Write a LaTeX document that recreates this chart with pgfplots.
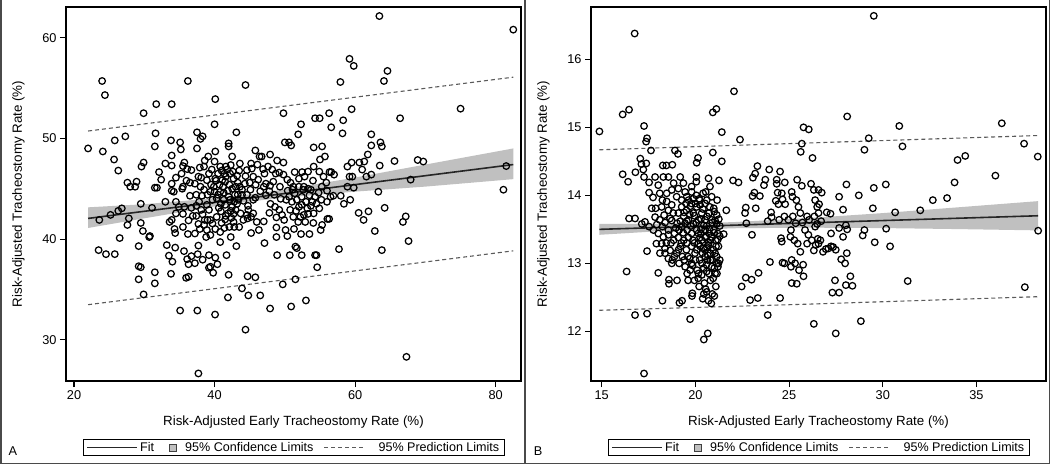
\documentclass[border=0pt]{standalone}
\usepackage{fontspec}
\setmainfont{Liberation Sans}
\usepackage{pgfplots}
\pgfplotsset{compat=1.18}
\definecolor{bandgray}{HTML}{C0C0C0}
\definecolor{fitgray}{HTML}{262626}
\definecolor{predgray}{HTML}{5A5A5A}
\definecolor{framegray}{HTML}{4A4A4A}
\newcommand{\lblfont}{\fontsize{13.4}{15}\selectfont}
\newcommand{\tckfont}{\fontsize{12.8}{14}\selectfont}
\pgfplotsset{
 sasstyle/.style={
  scale only axis, width=455bp, height=374bp,
  axis line style={black, line width=1.1bp},
  tick align=outside, tick pos=left,
  major tick length=6bp,
  every tick/.style={black, line width=1.1bp},
  tick label style={font=\tckfont},
  /pgf/number format/assume math mode=true,
  xticklabel={\tckfont\pgfmathprintnumber{\tick}},
  yticklabel={\tckfont\pgfmathprintnumber{\tick}},
  every axis x label/.style={at={(axis description cs:0.5,-0.1096)},anchor=center},
  every axis y label/.style={at={(axis description cs:-0.1048,0.5)},rotate=90,anchor=center},
  xlabel={\lblfont Risk-Adjusted Early Tracheostomy Rate (\%)},
  ylabel={\lblfont Risk-Adjusted Tracheostomy Rate (\%)},
  legend columns=3,
  legend style={at={(axis description cs:0.501,-0.178)}, anchor=center, draw=black, line width=1.1bp,
    font=\fontsize{12.6}{14}\selectfont, inner xsep=3bp, inner ysep=1bp,
    /tikz/every even column/.append style={column sep=8bp}},
  legend cell align=left,
 },
 pts/.style={only marks, mark=o, mark size=3.3bp, black, mark options={line width=1.25bp}, forget plot},
}
\newcommand{\saslegend}{%
  \addlegendimage{legend image code/.code={\draw[fitgray, line width=1.5bp] (0bp,0bp) -- (50bp,0bp);}}
  \addlegendentry{Fit}
  \addlegendimage{legend image code/.code={\path (-5bp,0bp) (13bp,0bp); \draw[draw=black!75, fill=bandgray, line width=0.8bp] (0bp,-3.5bp) rectangle (7bp,3.5bp);}}
  \addlegendentry{95\% Confidence Limits}
  \addlegendimage{legend image code/.code={\draw[predgray, line width=1bp, dash pattern=on 4bp off 3bp] (0bp,0bp) -- (41bp,0bp); \path (52bp,0bp);}}
  \addlegendentry{95\% Prediction Limits}
}
\pgfplotstableread{
x y
63.45 62.15
82.5 60.8
24.0 55.7
24.4 54.3
36.2 55.7
44.4 55.3
40.1 53.9
31.7 53.4
33.9 53.4
29.9 52.5
59.2 57.9
59.8 57.2
64.6 56.7
64.1 55.7
57.9 55.6
75.0 52.95
66.4 52.0
49.8 52.5
59.5 52.9
56.3 52.5
58.3 51.8
54.3 52.0
54.95 52.0
56.6 51.1
52.3 51.4
51.9 50.4
58.2 50.5
62.3 50.4
22.0 49.0
24.1 48.7
25.8 49.8
27.3 50.2
25.7 47.9
26.3 46.8
31.6 50.5
31.5 49.2
33.8 49.8
35.1 49.6
35.2 48.9
33.9 48.3
40.0 51.4
37.5 50.6
38.0 49.95
38.3 50.2
43.1 50.6
42.0 49.5
42.0 49.2
40.1 48.7
39.1 48.2
42.5 48.2
37.5 49.0
45.8 48.8
46.7 48.2
47.9 48.4
48.9 47.8
49.8 47.6
50.0 49.6
50.6 49.6
50.9 49.3
54.1 49.1
55.3 49.2
55.7 48.2
55.0 47.9
62.3 49.3
63.6 49.6
63.8 49.2
61.8 48.4
61.3 47.7
60.6 47.6
59.5 47.6
58.9 47.2
61.0 46.9
61.6 46.2
62.3 46.4
63.5 47.3
65.6 47.75
68.9 47.85
69.7 47.7
67.9 45.9
81.5 47.25
81.1 44.9
63.3 44.7
64.2 43.1
67.2 42.25
66.8 41.7
67.6 39.8
63.8 38.9
62.8 40.8
61.9 42.75
61.2 41.9
60.5 42.6
58.4 43.5
59.3 43.9
59.8 45.1
58.9 45.2
59.2 46.2
59.6 46.2
57.95 44.3
57.7 39.0
67.3 28.3
40.07 32.5
37.7 26.65
44.4 31.0
35.1 32.9
37.55 32.9
47.9 33.1
50.9 33.3
53.0 33.9
41.9 34.2
44.8 34.4
46.5 34.4
43.9 35.1
49.7 35.5
51.5 36.0
42.0 36.45
44.7 36.3
45.8 36.2
54.6 37.2
54.3 38.4
54.5 38.4
52.4 38.4
50.7 38.4
48.9 38.4
41.7 38.4
29.9 34.5
31.5 35.6
31.5 36.7
29.2 36.0
33.8 36.55
29.2 37.3
29.5 37.2
29.2 39.3
30.7 40.2
30.8 40.3
26.5 40.1
23.5 38.9
24.55 38.5
25.8 38.5
27.6 41.4
27.8 42.05
29.8 40.8
29.5 41.6
23.6 41.9
25.2 42.4
26.3 42.8
26.8 43.05
29.5 43.5
31.1 43.1
33.0 43.7
34.5 43.7
27.6 45.6
28.0 45.2
28.7 45.2
28.9 45.7
29.6 47.2
29.9 47.6
32.1 46.65
32.4 45.9
31.5 45.1
31.8 45.1
33.0 47.5
33.9 47.3
34.5 46.1
33.9 44.8
35.5 47.25
35.7 47.6
36.1 46.95
36.7 46.85
35.3 46.5
36.0 45.8
36.5 45.6
37.2 45.5
36.5 44.3
37.4 44.4
38.2 44.3
35.4 45.0
35.7 43.2
35.5 42.5
36.7 43.1
36.3 41.85
37.4 42.3
37.8 43.7
38.9 43.4
38.6 41.9
39.4 41.9
38.9 40.9
40.1 41.0
38.8 40.2
39.4 40.4
40.8 39.7
40.8 40.7
41.4 41.1
41.5 41.95
42.3 42.8
42.7 41.7
42.3 40.2
43.1 39.3
42.8 41.2
45.2 40.6
47.1 39.6
48.8 40.2
50.35 40.3
51.3 41.0
52.3 40.5
53.5 40.5
51.5 39.25
51.7 39.1
55.1 40.9
54.05 41.6
55.3 41.4
56.05 42.0
56.3 42.0
54.1 42.55
54.9 43.05
55.99 43.7
56.5 44.2
56.9 44.3
55.25 45.2
55.9 45.6
56.35 46.65
56.6 46.65
55.5 46.2
54.9 46.7
54.1 47.2
53.3 46.7
52.45 46.65
52.0 46.0
51.4 46.65
50.8 45.6
50.35 45.9
49.8 46.4
49.2 46.6
48.7 46.5
48.35 45.7
47.9 45.3
47.3 45.5
47.1 46.5
46.9 46.95
46.4 48.2
46.1 47.4
45.5 46.2
45.2 47.5
44.6 46.85
44.4 46.25
43.6 47.5
43.5 46.8
45.85 45.4
45.8 44.1
47.3 44.35
47.95 43.5
48.6 43.2
49.2 42.9
48.8 42.15
48.8 41.15
47.8 42.6
47.0 41.75
46.0 41.7
45.5 42.55
44.8 42.9
44.6 42.4
44.75 43.3
44.1 43.8
43.9 44.4
43.9 44.9
43.3 45.6
42.9 44.4
42.2 43.9
41.9 44.8
41.3 43.9
40.9 43.5
40.5 44.4
40.7 45.4
41.1 45.85
41.6 46.2
42.2 46.5
42.7 46.0
40.5 46.5
40.1 46.0
39.9 45.2
39.4 44.7
38.9 45.85
39.2 46.5
38.5 47.2
38.6 47.8
40.0 47.7
40.8 47.2
41.6 47.2
42.3 47.35
37.9 47.1
37.7 46.2
40.9 42.75
40.3 42.2
42.7 42.5
42.5 43.2
43.2 43.5
42.1 41.2
37.7 39.35
37.6 38.5
36.7 38.3
36.1 38.0
36.3 37.5
35.65 38.8
37.2 37.6
38.3 37.95
39.2 38.4
40.1 38.15
40.4 37.5
39.4 37.25
39.2 37.15
39.8 36.65
35.95 36.15
36.3 36.25
33.5 38.35
34.0 37.75
34.4 39.15
33.2 39.4
34.4 40.6
34.3 41.0
35.5 41.2
36.2 40.5
37.2 40.55
37.9 41.0
33.6 41.7
33.9 41.9
34.5 42.55
34.9 43.2
35.5 45.2
33.9 45.5
34.2 44.7
37.4 43.3
36.9 42.3
38.3 42.45
39.0 41.9
37.7 41.5
50.6 44.2
51.0 43.7
51.4 44.55
51.7 43.9
52.0 43.2
52.4 44.2
52.6 44.9
53.0 43.7
53.2 43.05
53.5 44.35
53.9 43.7
54.3 44.2
54.5 43.5
53.7 44.9
51.2 45.2
52.0 45.2
52.7 45.2
53.3 45.0
50.2 43.9
50.75 42.9
51.2 42.2
52.2 42.2
52.7 42.4
51.9 41.7
52.9 41.7
49.9 41.9
50.1 40.9
49.6 42.4
49.3 45.2
49.4 44.0
40.3 44.05
40.8 44.7
41.2 45.2
41.5 45.7
42.1 45.4
42.5 45.0
43.0 45.2
43.3 44.4
41.5 43.4
41.9 42.55
43.0 42.9
43.4 43.9
43.7 42.55
44.1 41.9
39.5 45.4
39.0 44.4
38.5 44.9
39.7 43.9
39.2 42.9
38.1 42.9
38.5 41.4
39.7 41.55
46.5 44.75
47.0 45.2
47.8 44.75
48.5 44.4
45.5 43.9
45.1 44.9
45.2 42.2
44.7 42.05
46.3 40.9
41.0 46.8
41.8 46.9
42.6 46.7
43.2 46.3
41.3 44.6
42.0 44.2
42.8 43.7
40.6 43.1
41.6 42.3
42.4 42.1
43.5 41.2
41.0 41.6
40.2 45.8
41.4 46.5
43.6 45.2
44.3 45.5
44.6 44.4
45.0 45.6
46.2 45.9
45.3 47.0
47.6 47.2
48.2 46.9
40.0 44.7
39.6 46.9
38.1 46.1
38.0 45.2
53.7 43.3
54.8 44.6
53.3 42.5
52.4 43.4
51.6 42.8
55.2 43.9
51.1 44.9
50.4 44.8
54.0 45.8
52.8 46.2
57.0 46.4
56.0 44.8
}\dataA
\pgfplotstableread{
x y
29.52 16.64
16.76 16.38
22.06 15.53
14.88 14.94
16.12 15.19
16.46 15.26
17.26 15.02
17.42 14.84
17.37 14.79
17.63 14.66
20.93 15.22
21.12 15.27
21.41 14.93
22.38 14.82
20.93 14.63
21.41 14.50
20.14 14.55
20.07 14.48
18.91 14.66
19.07 14.61
18.77 14.45
18.26 14.44
18.45 14.44
17.06 14.54
17.12 14.46
17.38 14.47
16.80 14.34
16.12 14.31
16.41 14.20
17.22 14.38
17.26 14.27
17.53 14.19
16.46 13.66
16.78 13.66
16.33 12.88
16.78 12.24
17.42 12.26
17.26 11.38
17.42 13.18
18.02 12.86
18.24 12.45
18.59 12.70
18.59 12.76
19.02 12.75
19.15 12.42
19.29 12.45
19.72 12.18
19.84 12.56
19.82 12.52
20.39 12.48
20.66 11.97
20.45 11.88
20.85 12.41
21.09 12.66
20.55 12.62
21.01 12.52
20.73 12.85
21.05 12.85
19.61 12.75
19.45 12.95
19.80 13.00
20.09 12.90
20.34 12.83
18.74 13.00
18.77 13.05
18.11 13.15
17.92 13.29
18.20 13.29
18.38 13.22
18.65 13.19
19.00 13.15
19.31 13.10
19.20 13.25
19.52 13.20
19.70 13.07
19.98 13.15
20.23 13.05
20.52 13.10
20.80 13.05
21.14 13.10
21.23 13.00
20.87 12.95
20.59 12.98
21.23 13.25
20.96 13.20
20.69 13.27
20.43 13.22
20.16 13.29
19.87 13.34
19.63 13.38
19.38 13.34
19.09 13.38
18.84 13.34
18.56 13.42
18.29 13.39
18.02 13.44
17.76 13.49
17.53 13.54
17.31 13.61
17.14 13.58
17.85 13.68
18.10 13.64
18.38 13.60
18.74 13.63
19.02 13.59
19.27 13.54
19.56 13.49
19.80 13.44
20.07 13.49
20.30 13.44
20.52 13.49
20.73 13.44
20.98 13.49
21.19 13.44
21.51 13.43
21.09 13.34
20.80 13.34
20.52 13.38
20.16 13.64
20.45 13.56
19.89 13.58
19.63 13.64
19.38 13.69
19.09 13.74
18.82 13.74
18.56 13.78
18.20 13.83
17.88 13.81
17.67 13.81
17.74 13.97
17.53 14.04
18.10 14.03
18.24 13.93
18.47 13.91
18.74 13.86
19.00 13.98
19.27 13.93
19.54 13.98
19.80 14.05
20.05 14.00
20.23 13.93
20.52 13.88
20.77 13.83
21.01 13.76
21.14 13.71
21.65 13.78
20.78 14.13
21.26 14.22
20.05 14.20
20.05 14.27
19.80 14.13
19.36 14.18
19.19 14.27
18.84 14.18
18.56 14.27
18.29 14.27
17.85 14.27
18.02 14.15
19.73 13.84
19.52 13.78
20.34 13.74
20.62 13.69
20.87 13.64
21.14 13.58
20.07 13.83
19.89 13.74
20.41 14.03
19.27 13.83
22.01 14.22
22.30 14.19
22.69 13.82
22.65 13.74
22.72 13.59
23.02 13.42
23.07 14.26
23.19 14.32
23.31 14.43
23.15 14.04
23.05 13.99
23.44 13.99
23.22 13.81
23.94 14.38
23.73 14.23
23.66 14.15
24.34 14.23
24.34 14.17
24.52 14.35
24.77 14.19
24.04 13.75
23.86 13.62
24.07 13.68
24.29 13.92
24.39 14.04
24.61 14.03
24.65 13.94
24.79 13.87
24.43 13.87
24.47 13.64
24.75 13.69
25.14 14.05
25.18 13.98
25.43 14.23
25.68 14.14
25.39 13.93
25.50 13.83
25.60 13.74
25.20 13.69
24.96 13.64
25.10 13.49
25.35 13.59
25.71 13.60
25.96 13.69
26.07 13.64
25.68 14.76
25.62 14.64
25.77 15.00
26.05 14.97
26.25 14.55
26.17 14.17
26.32 14.08
26.57 14.08
26.74 14.04
26.39 13.93
26.50 13.83
26.60 13.87
26.57 13.74
26.35 13.69
26.50 13.58
26.71 13.62
27.01 13.75
27.21 13.73
27.67 13.98
27.88 13.79
28.06 14.16
28.10 15.16
28.72 14.00
29.02 14.67
29.25 14.84
29.52 14.11
29.47 13.81
30.16 14.16
30.66 13.75
30.88 15.02
31.05 14.72
32.00 13.78
32.67 13.93
33.43 13.96
33.83 14.19
33.99 14.52
34.40 14.58
36.01 14.29
36.35 15.06
37.54 14.76
38.27 14.57
38.29 13.48
37.58 12.65
31.33 12.74
30.18 13.51
30.39 13.25
29.57 13.31
29.02 13.49
28.93 13.41
28.83 12.15
27.49 11.97
26.32 12.11
23.86 12.24
23.33 12.49
22.92 12.46
24.52 12.49
23.37 12.86
22.69 12.79
23.00 12.76
22.47 12.66
23.98 13.02
24.57 13.37
24.61 13.32
24.65 13.01
24.75 13.00
25.14 13.05
25.10 12.95
25.32 13.00
25.14 12.71
25.41 12.70
25.53 12.90
25.75 12.98
25.77 12.81
25.07 13.39
25.28 13.34
25.46 13.29
25.60 13.17
25.85 13.49
26.03 13.42
25.96 13.29
26.21 13.34
26.32 13.19
26.42 13.27
26.53 13.36
26.67 13.34
26.57 13.29
26.81 13.17
26.96 13.21
27.10 13.22
27.24 13.25
27.35 13.24
27.49 13.20
27.24 13.44
27.67 13.52
27.88 13.39
28.03 13.56
28.10 13.50
28.08 13.15
27.78 13.06
27.99 13.00
27.45 12.75
27.31 12.57
27.67 12.57
28.03 12.68
28.27 12.81
28.38 12.67
26.39 13.54
20.16 13.44
20.34 13.34
20.61 13.24
20.87 13.39
20.66 13.12
20.38 13.15
20.07 13.20
19.80 13.25
21.05 13.15
21.14 13.00
21.01 12.93
20.80 12.75
20.48 12.71
20.20 12.66
19.95 12.75
20.16 12.85
20.45 12.93
19.72 12.90
19.56 12.85
19.41 13.05
19.13 13.00
18.88 13.10
18.56 13.07
18.38 13.15
20.52 13.64
20.73 13.74
20.98 13.81
21.16 13.93
20.87 13.98
20.61 13.93
20.25 13.86
19.80 13.88
19.63 13.93
19.89 13.95
19.45 14.05
19.09 14.10
18.74 14.08
18.47 14.03
19.70 13.72
19.45 13.59
19.13 13.49
18.88 13.44
18.56 13.49
18.24 13.54
17.94 13.57
18.33 13.71
18.65 13.66
20.2 13.95
20.4 13.80
20.6 13.55
20.9 13.60
21.2 13.35
21.0 13.45
20.7 13.30
20.3 13.50
20.5 13.20
20.8 13.15
21.1 13.25
20.25 13.38
20.9 13.05
21.2 12.95
20.6 12.88
20.35 13.00
20.0 13.05
20.95 12.78
21.15 12.85
20.55 13.40
20.75 13.50
21.3 13.40
21.3 13.55
21.25 13.65
20.05 13.60
19.95 13.70
19.75 13.55
19.55 13.62
19.35 13.45
19.25 13.30
19.55 13.30
19.95 13.30
20.25 13.25
20.65 13.05
21.05 13.63
20.3 13.65
19.6 13.10
19.85 12.97
20.15 12.78
20.6 12.58
20.7 12.45
20.9 12.55
20.45 12.55
21.3 13.05
19.4 13.75
19.2 13.62
18.95 13.52
19.5 13.88
20.0 13.88
20.55 14.05
20.7 14.25
19.1 13.20
18.7 13.30
18.45 13.30
}\dataB
\begin{document}
\begin{tikzpicture}
\useasboundingbox (0,0) rectangle (1050bp,465bp);
\draw[framegray, line width=1.5bp] (0.75bp,465bp) -- (0.75bp,1.5bp) -- (1049.25bp,1.5bp) -- (1049.25bp,465bp);
\draw[framegray, line width=1.5bp] (525bp,465bp) -- (525bp,1.5bp);
\node[font=\tckfont, anchor=center] at (13bp,14bp) {A};
\node[font=\tckfont, anchor=center] at (538bp,14bp) {B};
% Panel A
\begin{axis}[sasstyle, at={(66bp,84bp)}, anchor=south west,
  xmin=18.86, xmax=83.6, ymin=25.9, ymax=63.05,
  xtick={20,40,60,80}, ytick={30,40,50,60}]
\saslegend
\addplot[fill=bandgray, draw=none, forget plot] table {
x y
22 43.15
30 43.46
40 44.05
45 44.43
50 44.93
60 46.11
70 47.40
82.5 49.00
82.5 45.95
70 45.21
60 44.71
50 44.12
45 43.73
40 43.24
30 42.06
22 41.10
} -- cycle;
\addplot[fitgray, line width=1.6bp, forget plot] table {
x y
22 42.05
45 44.08
82.5 47.40
};
\addplot[predgray, line width=1.1bp, dash pattern=on 4bp off 3bp, forget plot] table {
x y
22 50.73
40 52.32
60 54.09
82.5 56.08
};
\addplot[predgray, line width=1.1bp, dash pattern=on 4bp off 3bp, forget plot] table {
x y
22 33.48
40 35.07
60 36.84
82.5 38.83
};
\addplot[pts] table {\dataA};
\end{axis}
% Panel B
\begin{axis}[sasstyle, at={(591bp,84bp)}, anchor=south west,
  xmin=14.43, xmax=38.71, ymin=11.27, ymax=16.77,
  xtick={15,20,25,30,35}, ytick={12,13,14,15,16}]
\saslegend
\addplot[fill=bandgray, draw=none, forget plot] table {
x y
14.88 13.58
18 13.582
22 13.606
26 13.665
30 13.739
34 13.824
38.29 13.915
38.29 13.485
34 13.504
30 13.519
26 13.525
22 13.516
18 13.472
14.88 13.42
} -- cycle;
\addplot[fitgray, line width=1.6bp, forget plot] table {
x y
14.88 13.50
22 13.561
38.29 13.70
};
\addplot[predgray, line width=1.1bp, dash pattern=on 4bp off 3bp, forget plot] table {
x y
14.88 14.67
26 14.77
38.29 14.88
};
\addplot[predgray, line width=1.1bp, dash pattern=on 4bp off 3bp, forget plot] table {
x y
14.88 12.31
26 12.40
38.29 12.51
};
\addplot[pts] table {\dataB};
\end{axis}
\end{tikzpicture}
\end{document}
